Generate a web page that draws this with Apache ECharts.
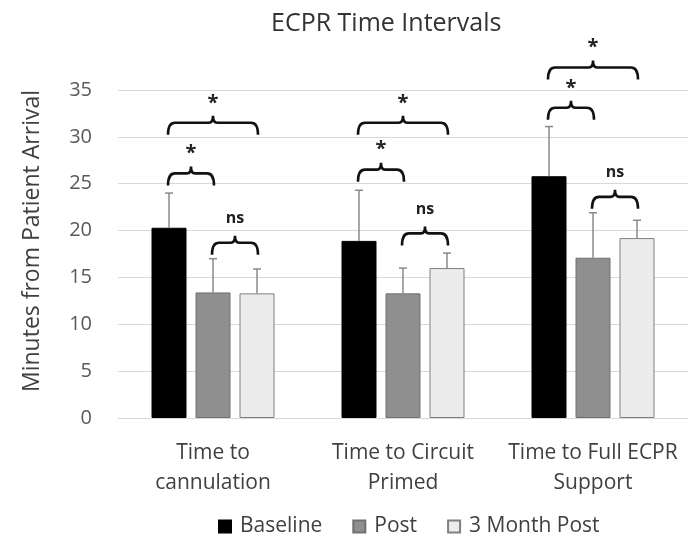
<!DOCTYPE html>
<html>
<head>
<meta charset="utf-8">
<script src="https://cdn.jsdelivr.net/npm/echarts@6/dist/echarts.min.js"></script>
<style>html,body{margin:0;padding:0;background:#fff}#c{width:693px;height:537px}</style>
</head>
<body>
<div id="c"></div>
<script>
const categories = ['Time to\ncannulation', 'Time to Circuit\nPrimed', 'Time to Full ECPR\nSupport'];
const seriesNames = ['Baseline', 'Post', '3 Month Post'];
const baseline = [20.3, 18.9, 25.8];
const post = [13.4, 13.3, 17.1];
const month3 = [13.3, 16.0, 19.2];
const baselineErr = [24.0, 24.3, 31.1];
const postErr = [17.0, 16.0, 21.9];
const month3Err = [15.9, 17.6, 21.1];
const yTicks = [0, 5, 10, 15, 20, 25, 30, 35];
// brackets: [category, fromSeries, toSeries, level, label]
const brackets = [
  [0, 0, 1, 26.1, '*'], [0, 0, 2, 31.5, '*'], [0, 1, 2, 18.7, 'ns'],
  [1, 0, 1, 26.5, '*'], [1, 0, 2, 31.5, '*'], [1, 1, 2, 19.7, 'ns'],
  [2, 0, 1, 33.1, '*'], [2, 0, 2, 37.4, '*'], [2, 1, 2, 23.6, 'ns']
];

const FONT = '"Open Sans"';
const BAR_W = 35, GAP = 9;
const offsets = [-(BAR_W + GAP), 0, BAR_W + GAP];
const values = [baseline, post, month3];
const errs = [baselineErr, postErr, month3Err];
const colors = ['#000000', '#8f8f8f', '#ececec'];
const borders = ['#000000', '#707070', '#808080'];

const chart = echarts.init(document.getElementById('c'));

const barSeries = seriesNames.map((n, i) => ({
  name: n, type: 'bar', data: values[i], barWidth: BAR_W, barGap: (GAP / BAR_W * 100) + '%',
  itemStyle: { color: colors[i], borderColor: borders[i], borderWidth: 1 },
  z: 2
}));

const errSeries = seriesNames.map((n, i) => ({
  type: 'custom', name: n + ' err', silent: true, z: 3,
  data: categories.map((c, k) => [k, values[i][k], errs[i][k]]),
  renderItem: function (params, api) {
    const x = api.coord([api.value(0), 0])[0] + offsets[i];
    const y0 = api.coord([api.value(0), api.value(1)])[1];
    const y1 = api.coord([api.value(0), api.value(2)])[1];
    return { type: 'group', children: [
      { type: 'line', shape: { x1: x, y1: y0, x2: x, y2: y1 }, style: { stroke: '#8a8a8a', lineWidth: 1.5 } },
      { type: 'line', shape: { x1: x - 4, y1: y1, x2: x + 4, y2: y1 }, style: { stroke: '#8a8a8a', lineWidth: 1.5 } }
    ]};
  }
}));

const bracketSeries = {
  type: 'custom', silent: true, clip: false, z: 4,
  data: brackets.map(b => [b[0], b[1], b[2], b[3], b[4]]),
  renderItem: function (params, api) {
    const b = brackets[params.dataIndex];
    const cx = api.coord([b[0], 0])[0];
    const x1 = cx + offsets[b[1]] - 1;
    const x2 = cx + offsets[b[2]] + 1;
    const yh = api.coord([b[0], b[3]])[1];
    const ye = yh + 12;
    const xm = (x1 + x2) / 2;
    const r = 7;
    const p = 'M' + x1 + ' ' + ye + ' Q' + x1 + ' ' + yh + ' ' + (x1 + r) + ' ' + yh +
      ' L' + (xm - 4) + ' ' + yh + ' Q' + xm + ' ' + yh + ' ' + xm + ' ' + (yh - 7) +
      ' Q' + xm + ' ' + yh + ' ' + (xm + 4) + ' ' + yh +
      ' L' + (x2 - r) + ' ' + yh + ' Q' + x2 + ' ' + yh + ' ' + x2 + ' ' + ye;
    const isStar = b[4] === '*';
    return { type: 'group', children: [
      { type: 'path', shape: { pathData: p }, style: { stroke: '#111', lineWidth: 2.6, fill: null } },
      { type: 'text', x: xm, y: isStar ? yh - 20 : yh - 24,
        style: { text: b[4], font: (isStar ? 'bold 20px ' : 'bold 16px ') + FONT, fill: '#222', align: 'center', verticalAlign: 'middle' } }
    ]};
  }
};

chart.setOption({
  animation: false,
  title: { text: 'ECPR Time Intervals', left: 266, top: 6,
    textStyle: { fontFamily: FONT, fontSize: 25, fontWeight: 'normal', color: '#333' } },
  legend: { data: seriesNames, bottom: -5, left: 213, itemWidth: 12, itemHeight: 12, itemGap: 30,
    icon: 'rect', textStyle: { fontFamily: FONT, fontSize: 21, color: '#404040', padding: [0, 0, 0, 4] } },
  grid: { left: 118, right: 5, top: 90, bottom: 119 },
  xAxis: { type: 'category', data: categories,
    axisLine: { lineStyle: { color: '#d9d9d9' } }, axisTick: { show: false },
    axisLabel: { fontFamily: FONT, fontSize: 21, color: '#404040', lineHeight: 30, margin: 20, interval: 0 } },
  yAxis: { type: 'value', min: 0, max: 35, interval: 5,
    name: 'Minutes from Patient Arrival', nameLocation: 'middle', nameGap: 74,
    nameTextStyle: { fontFamily: FONT, fontSize: 23, color: '#404040', padding: [0, 0, 0, 26] },
    axisLabel: { fontFamily: FONT, fontSize: 20, color: '#595959', margin: 26,
      formatter: v => yTicks.includes(v) ? String(v) : '' },
    splitLine: { lineStyle: { color: '#d9d9d9' } } },
  series: [...barSeries, ...errSeries, bracketSeries]
});
</script>
</body>
</html>
